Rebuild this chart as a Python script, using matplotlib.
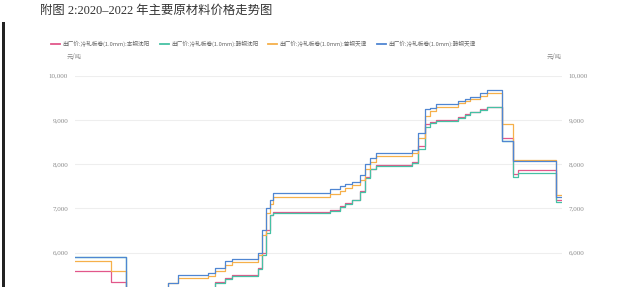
#!/usr/bin/env python3
import numpy as np
import pandas as pd
import matplotlib
matplotlib.use("Agg")
import matplotlib.pyplot as plt
from matplotlib.patches import Rectangle
from matplotlib.ticker import FuncFormatter

plt.rcParams["font.family"] = ["Liberation Serif", "Noto Sans CJK SC", "DejaVu Sans"]

TITLE = "附图 2:2020–2022 年主要原材料价格走势图"
UNIT = "元/吨"

names = [
    "出厂价:冷轧板卷(1.0mm):本钢沈阳",
    "出厂价:冷轧板卷(1.0mm):鞍钢沈阳",
    "出厂价:冷轧板卷(1.0mm):首钢天津",
    "出厂价:冷轧板卷(1.0mm):鞍钢天津",
]
colors = ["#e2578a", "#45c1a4", "#f6b04a", "#4f86d2"]

# change dates of the step series
dates = [
    "2020-01-01", "2020-03-22", "2020-04-25", "2020-07-28", "2020-08-20",
    "2020-10-26", "2020-11-11", "2020-12-03", "2020-12-19", "2021-02-16",
    "2021-02-25", "2021-03-06", "2021-03-15", "2021-03-21", "2021-07-28",
    "2021-08-19", "2021-08-30", "2021-09-15", "2021-10-03", "2021-10-14",
    "2021-10-26", "2021-11-08", "2022-01-28", "2022-02-11", "2022-02-26",
    "2022-03-10", "2022-03-23", "2022-05-12", "2022-05-27", "2022-06-08",
    "2022-06-30", "2022-07-16", "2022-08-19", "2022-09-12", "2022-09-24",
    "2022-12-19", "2022-12-31",
]
pink = [5590, 5330, 4600, 5050, 5150, 5200, 5340, 5420, 5500, 5650,
        6000, 6500, 6850, 6920, 6970, 7050, 7130, 7200, 7400, 7700,
        7900, 7980, 8050, 8400, 8900, 8950, 9000, 9070, 9130, 9190,
        9250, 9300, 8600, 7770, 7870, 7200, 7200]
green = [5890, 5890, 4600, 5050, 5130, 5180, 5320, 5400, 5480, 5620,
         5950, 6450, 6850, 6900, 6950, 7030, 7100, 7180, 7380, 7680,
         7880, 7960, 8030, 8350, 8850, 8930, 8980, 9050, 9110, 9170,
         9230, 9290, 8520, 7720, 7810, 7150, 7150]
orange = [5800, 5590, 4700, 5300, 5420, 5480, 5580, 5720, 5780, 5950,
          6400, 6900, 7100, 7250, 7330, 7400, 7470, 7530, 7650, 7900,
          8050, 8180, 8250, 8600, 9100, 9200, 9300, 9380, 9430, 9480,
          9550, 9600, 8900, 8100, 8100, 7300, 7300]
blue = [5890, 5890, 4750, 5300, 5500, 5545, 5640, 5800, 5865, 6000,
        6500, 7000, 7200, 7350, 7430, 7500, 7550, 7600, 7750, 8000,
        8150, 8250, 8320, 8700, 9250, 9260, 9350, 9420, 9480, 9520,
        9600, 9680, 8520, 8080, 8080, 7250, 7250]

yticks = [6000, 7000, 8000, 9000, 10000]

x = pd.to_datetime(dates)

fig = plt.figure(figsize=(6.2, 2.87), dpi=100)
ax = fig.add_axes([0.121, -0.188, 0.785, 0.924])

for vals, c, n in zip([pink, green, orange, blue], colors, names):
    ax.plot(x, vals, drawstyle="steps-post", color=c, lw=0.9, label=n)

ax.set_xlim(x[0], x[-1])
ax.set_ylim(4000, 10000)
ax.set_yticks(yticks)
ax.yaxis.set_major_formatter(FuncFormatter(lambda v, p: f"{int(v):,}"))
ax.grid(axis="y", color="#eeeeee", lw=0.8)
ax.set_axisbelow(True)
ax.set_xticks([])
for s in ax.spines.values():
    s.set_visible(False)
ax.tick_params(axis="y", length=0, labelsize=5, labelcolor="#8a8a8a",
               labelright=True, pad=5)

cjk = ["Noto Sans CJK SC", "DejaVu Sans"]
fig.text(0.107, 0.80, UNIT, fontsize=4.5, color="#8a8a8a", family=cjk, va="center")
fig.text(0.906, 0.80, UNIT, fontsize=4.5, color="#8a8a8a", family=cjk,
         va="center", ha="right")

leg = ax.legend(loc="center left", bbox_to_anchor=(0.074, 0.848),
                bbox_transform=fig.transFigure, ncol=4, frameon=False,
                handlelength=1.6, handletextpad=0.4, columnspacing=1.75,
                prop={"family": cjk, "size": 4.1})
for t in leg.get_texts():
    t.set_color("#666666")
for h in leg.get_lines():
    h.set_linewidth(1.3)

fig.text(0.064, 0.962, TITLE, fontsize=8.9, color="#333333", va="center")

fig.add_artist(Rectangle((0.003, 0.0), 0.005, 0.925, transform=fig.transFigure,
                         color="#222222", lw=0))

fig.savefig("out.png", dpi=100)
